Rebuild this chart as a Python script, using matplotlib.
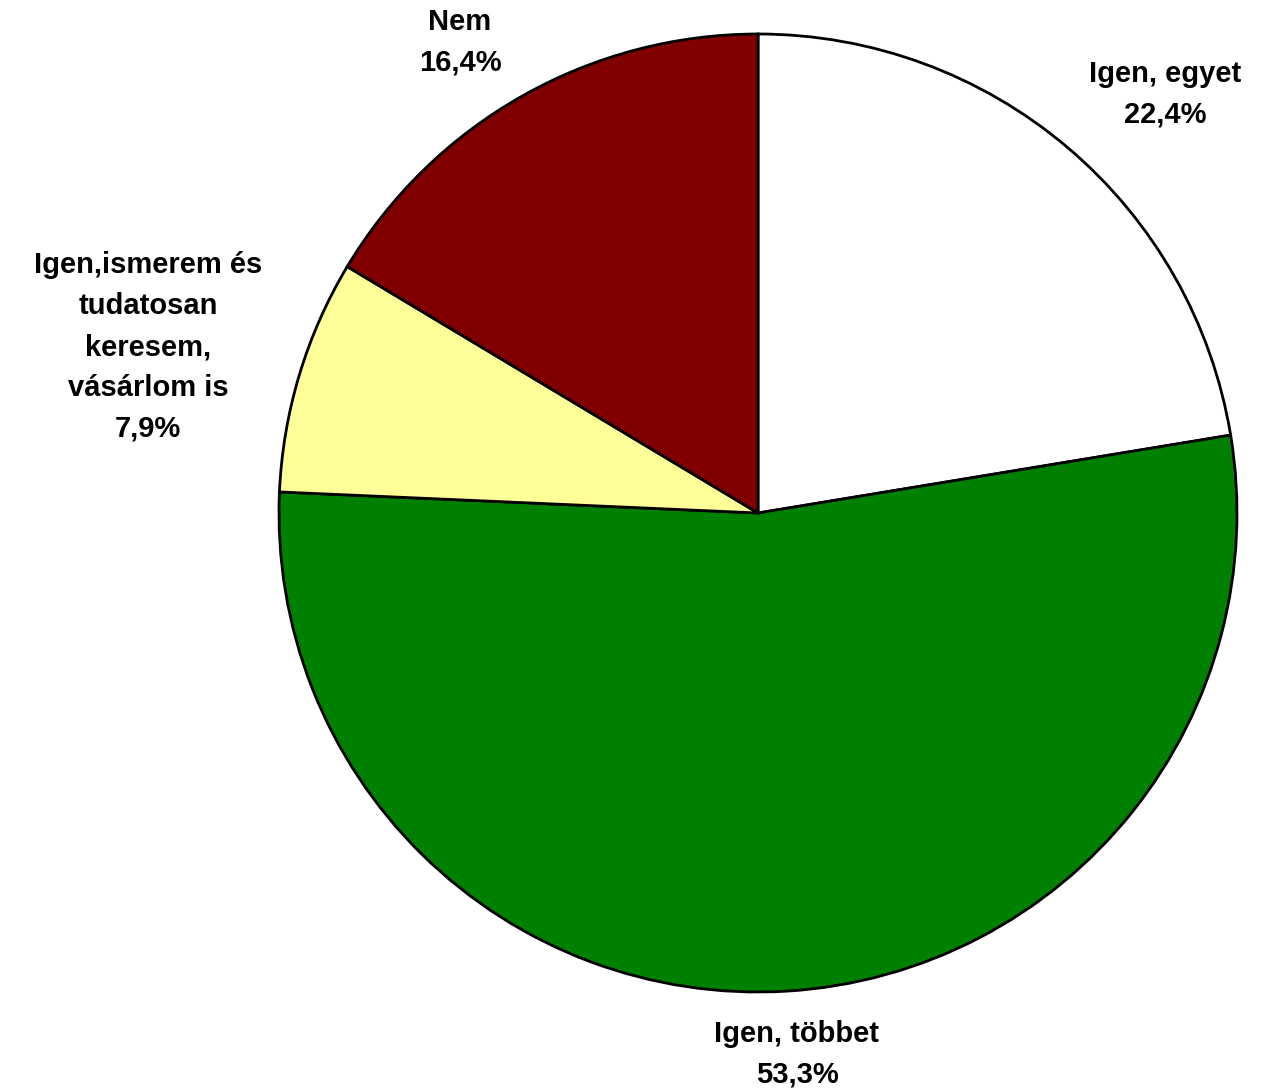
import matplotlib
matplotlib.use("Agg")
import matplotlib.pyplot as plt
import matplotlib.transforms as mtransforms

labels = ["Igen, egyet", "Igen, többet", "Igen,ismerem és\ntudatosan\nkeresem,\nvásárlom is", "Nem"]
values = [22.4, 53.3, 7.9, 16.4]
colors = ["#ffffff", "#008000", "#ffff99", "#800000"]

# label anchor positions in pixel coords (x, y from top)
label_pos = [(1165, 94), (797, 1054), (148, 347), (460, 42)]

W, H = 1263, 1091
fig = plt.figure(figsize=(W / 100, H / 100), dpi=100)
ax = fig.add_axes([0, 0, 1, 1])

cx, cy, r = 758, 513, 479
wedges, _ = ax.pie(values, colors=colors, startangle=90, counterclock=False,
                   center=(cx, -cy), radius=r,
                   wedgeprops=dict(edgecolor="black", linewidth=2))
# pie draws y-up, flip into a y-down pixel frame
flip = mtransforms.Affine2D().scale(1, -1)
for w in wedges:
    w.set_transform(flip + ax.transData)
ax.set_xlim(0, W)
ax.set_ylim(H, 0)
ax.set_aspect("equal")
ax.axis("off")

for lab, v, (x, y) in zip(labels, values, label_pos):
    txt = lab + "\n" + f"{v:.1f}".replace(".", ",") + "%"
    ax.text(x, y, txt, ha="center", va="center", fontsize=21,
            family="Liberation Sans", fontweight="bold", linespacing=1.58)

fig.savefig("out.png", dpi=100)
